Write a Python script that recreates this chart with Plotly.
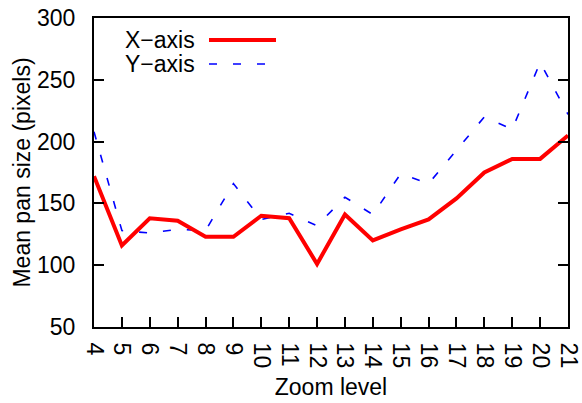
import plotly.graph_objects as go

zoom_levels = list(range(4, 22))
x_axis_pan = [172, 116, 138, 136, 123, 123, 140, 138, 101, 141, 120, 129, 137, 154, 175, 186, 186, 205]
y_axis_pan = [208, 128, 126, 129, 128, 166, 137, 142, 132, 155, 141, 174, 166, 193, 220, 210, 264, 222]
y_ticks = [50, 100, 150, 200, 250, 300]

FONT = "Liberation Sans, Arial, sans-serif"
FS = 23

fig = go.Figure()
fig.add_trace(go.Scatter(x=zoom_levels, y=y_axis_pan, mode="lines", name="Y\u2212axis",
                         line=dict(color="#0000ff", width=1.6, dash="8px,16px")))
fig.add_trace(go.Scatter(x=zoom_levels, y=x_axis_pan, mode="lines", name="X\u2212axis",
                         line=dict(color="#ff0000", width=4)))

# gnuplot-style legend: text left, sample right
legend_items = [("X\u2212axis", 40, dict(color="#ff0000", width=4)),
                ("Y\u2212axis", 64, dict(color="#0000ff", width=1.6, dash="8px,16px"))]
for label, ypix, ln in legend_items:
    yp = 1 - (ypix - 18) / 309
    fig.add_annotation(xref="paper", yref="paper", x=(197 - 94) / 474, y=yp, text=label,
                       showarrow=False, xanchor="right", yanchor="middle",
                       font=dict(family=FONT, size=FS, color="black"))
    fig.add_shape(type="line", xref="paper", yref="paper",
                  x0=(209 - 94) / 474, x1=(276 - 94) / 474, y0=yp, y1=yp, line=ln)

fig.update_layout(
    width=582, height=403,
    margin=dict(l=94, r=14, t=18, b=76, autoexpand=False),
    paper_bgcolor="white", plot_bgcolor="white",
    showlegend=False,
    font=dict(family=FONT, size=FS, color="black"),
)
fig.update_xaxes(range=[4, 21], tickvals=zoom_levels, ticktext=[str(z) for z in zoom_levels],
                 tickangle=90, ticks="inside", ticklen=10, tickwidth=1.5, tickcolor="black",
                 showline=True, linewidth=2, linecolor="black", mirror=True, showgrid=False,
                 zeroline=False, ticklabelstandoff=9, automargin=False,
                 tickfont=dict(size=FS),
                 title=dict(text="Zoom level", font=dict(size=FS), standoff=12))
fig.update_yaxes(range=[50, 300], tickvals=y_ticks, ticks="inside", ticklen=10, tickwidth=1.5,
                 tickcolor="black", showline=True, linewidth=2, linecolor="black", mirror="ticks",
                 showgrid=False, zeroline=False, ticklabelstandoff=12, automargin=False,
                 tickfont=dict(size=FS),
                 title=dict(text="Mean pan size (pixels)", font=dict(size=FS), standoff=0))

fig.write_html("out.html", config={"displayModeBar": False},
               post_script="document.body.style.margin='0';document.body.style.overflow='hidden';")
